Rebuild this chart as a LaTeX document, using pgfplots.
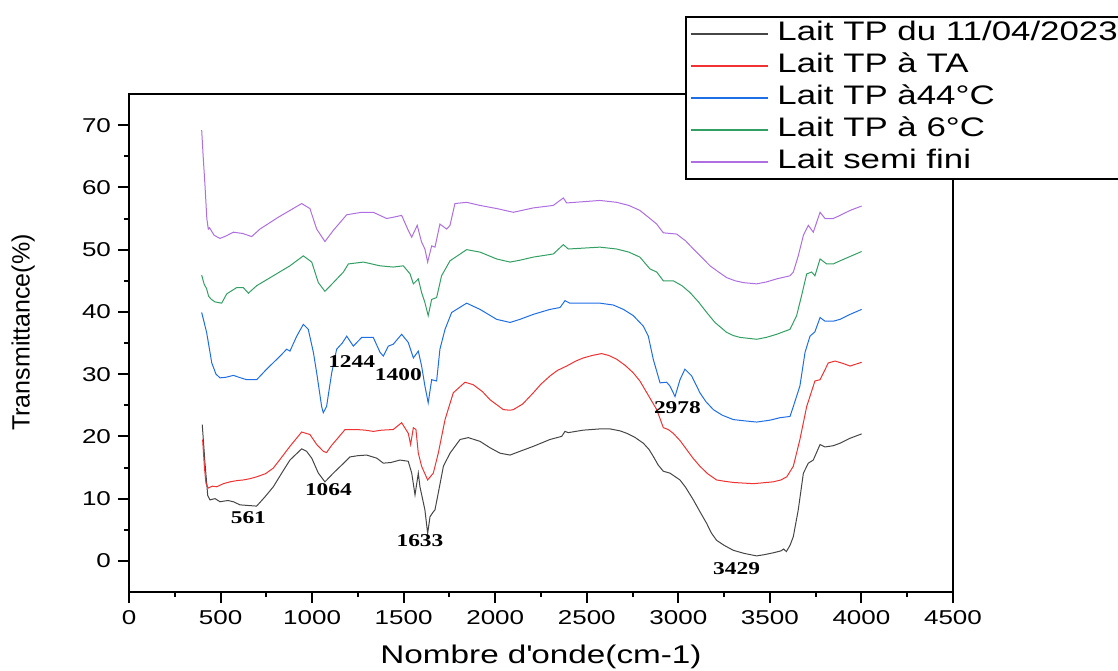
\documentclass[border=0pt]{standalone}
\usepackage{pgfplots}
\pgfplotsset{compat=1.18}
\usepackage{fontspec}
\setmainfont{Liberation Sans}[FakeStretch=1.3]
\newfontfamily\ylabfont{Liberation Sans}
\newfontfamily\annfont{Liberation Serif}[FakeStretch=1.3]
\definecolor{c1}{RGB}{70,70,70}
\definecolor{c2}{RGB}{240,50,50}
\definecolor{c3}{RGB}{30,110,230}
\definecolor{c4}{RGB}{50,160,100}
\definecolor{c5}{RGB}{175,110,225}
\begin{document}
\begin{tikzpicture}
\path[use as bounding box] (-64.5pt,-39pt) rectangle (494.5pt,296pt);
\begin{axis}[
 scale only axis, width=412pt, height=249pt,
 xmin=0, xmax=4500, ymin=-5, ymax=75,
 xtick={0,500,...,4500}, ytick={0,10,...,70},
 minor x tick num=1, minor y tick num=1,
 tick pos=left, tick align=outside,
 major tick length=5.5pt, minor tick length=2.5pt,
 every tick/.style={black, line width=1pt},
 axis line style={line width=1pt},
 /pgf/number format/assume math mode=true,
 /pgf/number format/1000 sep={},
 tick label style={font=\fontsize{10}{12}\selectfont},
 xlabel={Nombre d\textquotesingle onde(cm-1)}, ylabel={Transmittance(\%)},
 xlabel style={font=\fontsize{12.8}{15}\selectfont, at={(axis description cs:0.5,-0.1305)}, anchor=center},
 ylabel style={font=\ylabfont\fontsize{12.5}{15}\selectfont, at={(axis description cs:-0.1286,0.521)}, anchor=center},
 legend style={at={(axis description cs:0.6748,1.1566)}, anchor=north west, draw=black, line width=0.8pt, fill=white,
   font=\fontsize{13.4}{15}\selectfont, inner xsep=2pt, inner ysep=0.5pt, row sep=0pt, column sep=4.5pt,
   cells={anchor=west}, nodes={inner sep=0pt, text height=11.5pt, text depth=4.5pt}},
 legend image code/.code={\draw[#1, line width=0.8pt] (0pt,0pt) -- (38.5pt,0pt);},
]
\addplot[c1, line width=0.5pt] table {
400 21.9
415 15.7
430 10.5
442 9.8
470 10.0
497 9.5
540 9.7
570 9.5
606 9.0
650 8.9
697 8.8
743 10.3
788 11.9
834 14.1
879 16.2
943 18.0
970 17.6
998 16.5
1034 14.1
1070 12.7
1090 13.3
1116 14.1
1162 15.4
1207 16.7
1250 16.9
1298 17.0
1353 16.5
1389 15.7
1430 15.8
1480 16.2
1525 16.0
1544 14.1
1562 10.6
1580 14.1
1589 11.9
1616 8.2
1631 4.4
1644 7.1
1660 7.8
1671 8.2
1689 10.9
1717 15.2
1753 17.3
1808 19.5
1853 19.8
1917 19.2
1970 18.2
2026 17.3
2081 17.0
2135 17.6
2208 18.4
2299 19.5
2363 20.0
2381 20.8
2399 20.6
2480 21.0
2572 21.2
2627 21.2
2680 20.9
2718 20.5
2760 19.9
2809 18.9
2840 17.9
2863 16.8
2890 15.4
2918 14.4
2954 14.1
3009 13.0
3040 11.8
3082 9.8
3120 7.8
3155 6.0
3180 4.5
3209 3.3
3250 2.5
3300 1.7
3360 1.2
3428 0.8
3470 1.0
3519 1.3
3560 1.6
3575 1.9
3590 1.5
3610 2.5
3628 3.9
3655 8.2
3683 14.1
3710 15.7
3737 16.2
3774 18.7
3801 18.3
3846 18.5
3883 18.9
3938 19.7
4001 20.4
};
\addlegendentry{Lait TP du 11/04/2023}
\addplot[c2, line width=0.5pt] table {
402 19.5
412 15.0
420 12.5
433 11.7
455 12.0
479 11.9
515 12.4
552 12.7
590 12.9
624 13.0
660 13.2
697 13.5
745 14.0
788 14.9
830 16.5
879 18.4
943 20.7
988 20.3
1025 18.7
1061 17.6
1079 17.4
1105 18.5
1134 19.5
1180 21.1
1243 21.1
1290 21.0
1334 20.8
1380 21.0
1443 21.1
1489 22.2
1525 20.5
1538 18.7
1553 21.4
1567 21.1
1580 17.3
1598 15.2
1631 13.0
1662 14.1
1689 17.3
1726 22.7
1771 27.0
1835 28.7
1880 28.3
1930 27.2
1971 25.9
2044 24.3
2081 24.2
2099 24.3
2150 25.2
2208 27.0
2250 28.4
2299 29.7
2340 30.6
2390 31.3
2440 32.1
2481 32.6
2530 33.0
2581 33.3
2620 33.0
2663 32.4
2710 31.4
2754 30.2
2790 28.9
2818 27.5
2850 25.9
2882 24.3
2918 21.4
2945 21.1
2972 20.5
3010 19.3
3045 17.9
3080 16.5
3118 15.2
3160 14.0
3209 13.0
3250 12.8
3300 12.6
3410 12.4
3519 12.7
3560 13.0
3592 13.5
3628 15.2
3664 19.5
3701 24.8
3746 28.9
3774 29.1
3819 31.8
3856 32.1
3901 31.7
3938 31.3
4001 31.9
};
\addlegendentry{Lait TP à TA}
\addplot[c3, line width=0.5pt] table {
397 39.9
424 36.7
452 31.8
475 30.0
497 29.4
530 29.5
570 29.8
610 29.4
643 29.1
697 29.1
752 30.8
825 32.9
861 34.0
879 33.7
916 36.1
952 38.0
979 37.2
1007 33.5
1025 30.2
1052 24.8
1061 23.8
1079 24.8
1107 30.2
1134 34.0
1165 35.0
1189 36.1
1225 34.5
1271 35.9
1334 35.9
1371 33.5
1389 32.9
1416 34.5
1443 34.8
1489 36.4
1525 35.1
1553 32.6
1580 33.7
1598 31.3
1616 28.1
1634 25.4
1653 29.1
1680 28.9
1698 34.0
1726 37.2
1762 39.9
1844 41.4
1917 40.4
2008 38.8
2081 38.3
2135 38.8
2208 39.6
2299 40.4
2354 40.7
2381 41.8
2408 41.4
2572 41.4
2645 41.1
2700 40.4
2754 39.4
2809 37.7
2836 36.1
2863 32.4
2900 28.6
2936 28.7
2954 28.1
2982 26.4
3009 29.1
3036 30.8
3073 29.7
3118 27.0
3150 25.6
3191 24.3
3240 23.4
3300 22.7
3360 22.5
3428 22.3
3500 22.6
3555 23.0
3610 23.2
3628 24.8
3664 28.1
3692 33.5
3719 36.1
3746 36.8
3774 39.1
3801 38.5
3846 38.5
3883 38.8
3938 39.6
4001 40.4
};
\addlegendentry{Lait TP à44°C}
\addplot[c4, line width=0.5pt] table {
397 45.9
410 44.5
424 43.7
435 42.5
450 42.0
470 41.6
506 41.4
534 42.9
588 43.9
624 43.9
652 43.0
697 44.2
788 45.8
879 47.4
952 49.0
998 48.0
1034 44.7
1070 43.3
1116 44.7
1171 46.4
1198 47.7
1280 48.0
1371 47.4
1443 47.2
1498 47.4
1535 46.1
1553 44.5
1580 45.3
1598 43.1
1616 41.5
1634 39.4
1653 42.0
1680 42.3
1707 45.8
1753 48.2
1844 50.0
1917 49.6
2008 48.5
2081 48.0
2135 48.3
2208 48.8
2317 49.3
2372 50.8
2399 50.1
2572 50.4
2663 50.1
2730 49.6
2790 48.8
2845 46.9
2882 46.4
2918 45.0
2972 45.0
3020 44.2
3064 43.1
3110 41.6
3155 39.9
3200 38.3
3264 36.7
3300 36.2
3337 35.9
3428 35.6
3480 35.9
3537 36.4
3610 37.2
3646 39.4
3673 42.6
3701 46.1
3728 46.4
3746 45.8
3774 48.5
3810 47.7
3846 47.7
3883 48.2
3938 48.9
4001 49.7
};
\addlegendentry{Lait TP à 6°C}
\addplot[c5, line width=0.5pt] table {
397 69.2
405 65.0
415 60.3
425 55.0
433 53.3
440 53.5
465 52.3
497 51.8
530 52.2
570 52.8
620 52.6
670 52.1
715 53.3
815 55.2
879 56.3
943 57.4
988 56.6
1025 53.3
1070 51.3
1116 53.1
1189 55.6
1271 56.0
1334 56.0
1407 55.0
1443 55.2
1489 55.5
1525 53.1
1544 52.0
1574 53.9
1598 51.2
1616 50.1
1631 48.0
1653 50.6
1671 50.4
1698 54.1
1735 53.3
1753 53.9
1780 57.4
1844 57.6
1917 57.1
2008 56.6
2099 56.0
2208 56.7
2317 57.1
2372 58.3
2390 57.5
2572 57.9
2663 57.6
2730 57.1
2790 56.3
2845 55.0
2882 54.1
2918 52.7
2991 52.5
3040 51.4
3082 50.1
3130 48.7
3173 47.4
3220 46.4
3264 45.5
3310 45.0
3355 44.7
3428 44.5
3480 44.8
3537 45.3
3610 45.8
3628 46.4
3655 49.0
3683 52.3
3710 53.9
3737 52.8
3774 56.0
3801 55.0
3846 55.0
3883 55.5
3938 56.3
4001 57.0
};
\addlegendentry{Lait semi fini}
\begin{scope}[every node/.style={font=\annfont\bfseries\fontsize{9}{10}\selectfont}]
\node at (axis cs:652,7.0) {561};
\node at (axis cs:1089,11.4) {1064};
\node at (axis cs:1589,3.3) {1633};
\node at (axis cs:1216,32.1) {1244};
\node at (axis cs:1471,30.0) {1400};
\node at (axis cs:2995,24.6) {2978};
\node at (axis cs:3318,-1.2) {3429};
\end{scope}
\end{axis}
\end{tikzpicture}
\end{document}
